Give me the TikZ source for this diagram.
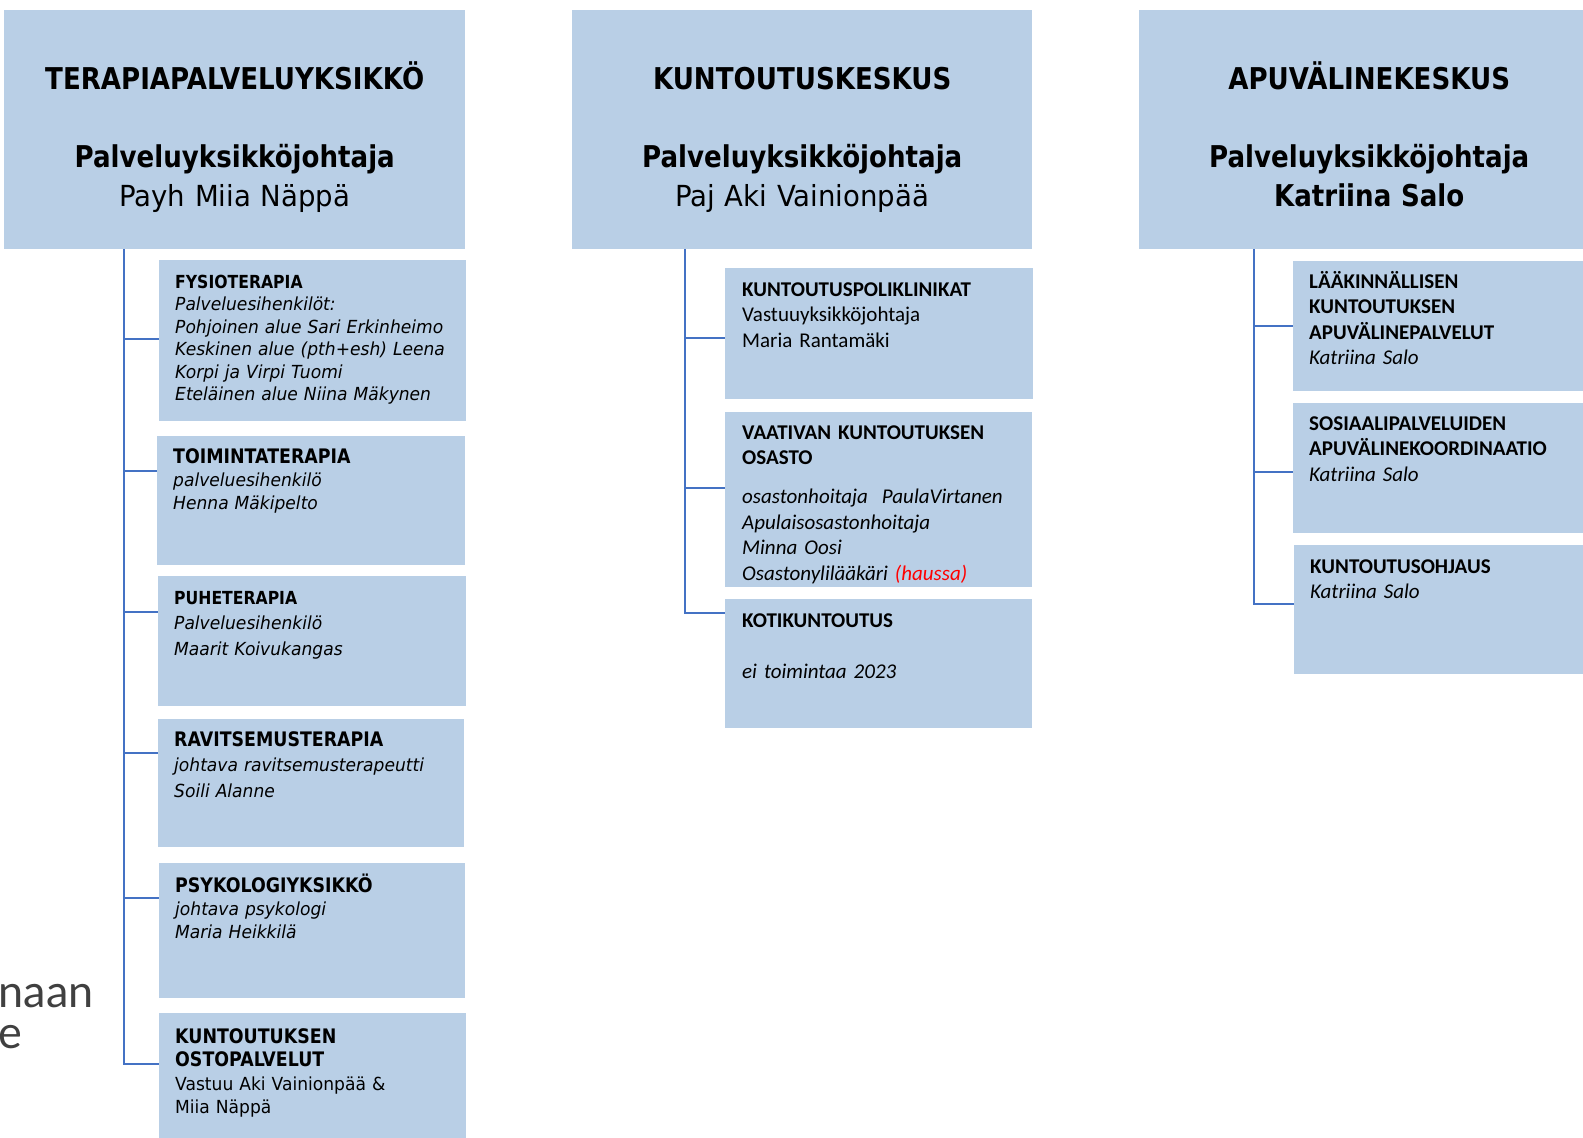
\documentclass[tikz,border=0pt]{standalone}
\usepackage{fontspec}
\setmainfont{DejaVu Sans}
\newfontfamily\tahb[FakeStretch=0.87]{DejaVu Sans}
\newfontfamily\tahr[FakeStretch=0.95]{DejaVu Sans}
\newfontfamily\cali{Carlito}
\newfontfamily\slide{Lato}
\usetikzlibrary{positioning, calc}

\definecolor{boxblue}{RGB}{185,207,230}
\definecolor{linkblue}{RGB}{68,114,196}
\definecolor{haured}{RGB}{255,0,0}
\definecolor{slidegray}{RGB}{64,64,64}

% headings of the units
\newcommand{\thead}[2][18]{{\tahb\bfseries\fontsize{#1}{23}\selectfont #2}}
\newcommand{\chead}[1]{{\bfseries #1}}
\newcommand{\toptitle}[1]{{\tahb\bfseries\fontsize{30}{39}\selectfont #1}}

\tikzset{
  head/.style={fill=boxblue, anchor=north west, inner sep=0pt, align=center,
    text height=79pt, text depth=160pt, font=\tahr\fontsize{29}{39}\selectfont},
  unit/.style={fill=boxblue, anchor=north west, inner xsep=16pt, inner ysep=0pt, align=left},
  tah/.style={font=\tahr\fontsize{18}{#1}\selectfont},
  tah/.default=23,
  cal/.style={font=\cali\fontsize{21}{25.5}\selectfont},
  link/.style={draw=linkblue, line width=2.8pt},
}

\begin{document}
\begin{tikzpicture}[x=1pt, y=-1pt]
  \useasboundingbox (0,0) rectangle (1583,1138);

  % slide text behind the chart
  \node[anchor=base east, inner sep=0pt, text=slidegray, font=\slide\fontsize{45}{50}\selectfont] (rest1) at (94,1007) {naan};
  \node[anchor=base east, inner sep=0pt, text=slidegray, font=\slide\fontsize{45}{50}\selectfont] (rest2) at (22,1048) {e};

  % the three service units
  \node[head, text width=461pt] (terapia) at (4,10) {\toptitle{TERAPIAPALVELUYKSIKKÖ}\\[39pt]\toptitle{Palveluyksikköjohtaja}\\Payh Miia Näppä};
  \node[head, text width=460pt] (kuntoutus) at (572,10) {\toptitle{KUNTOUTUSKESKUS}\\[39pt]\toptitle{Palveluyksikköjohtaja}\\Paj Aki Vainionpää};
  \node[head, text width=460pt] (apuv) at (1139,10) {\toptitle{APUVÄLINEKESKUS}\\[39pt]\toptitle{Palveluyksikköjohtaja}\\\toptitle{Katriina Salo}};

  % terapiapalveluyksikkö
  \node[unit, tah=22.5, text width=275pt, text height=28pt, text depth=133pt] (fysio) at (159,260)
    {\thead{FYSIOTERAPIA}\\{\itshape Palveluesihenkilöt:\\Pohjoinen alue Sari Erkinheimo\\Keskinen alue (pth+esh) Leena\\Korpi ja Virpi Tuomi\\Eteläinen alue Niina Mäkynen}};
  \node[unit, tah, text width=276pt, text height=27pt, text depth=102pt] (toimi) at (157,436)
    {\thead[20]{TOIMINTATERAPIA}\\{\itshape palveluesihenkilö\\Henna Mäkipelto}};
  \node[unit, tah=25.5, text width=276pt, text height=28pt, text depth=102pt] (puhe) at (158,576)
    {\thead{PUHETERAPIA}\\{\itshape Palveluesihenkilö\\Maarit Koivukangas}};
  \node[unit, tah=25.5, text width=274pt, text height=27pt, text depth=101pt] (ravit) at (158,719)
    {\thead[20]{RAVITSEMUSTERAPIA}\\{\itshape johtava ravitsemusterapeutti\\Soili Alanne}};
  \node[unit, tah, text width=274pt, text height=29pt, text depth=106pt] (psyko) at (159,863)
    {\thead[20]{PSYKOLOGIYKSIKKÖ}\\{\itshape johtava psykologi\\Maria Heikkilä}};
  \node[unit, tah=23.5, text width=275pt, text height=30pt, text depth=97pt] (ostop) at (159,1013)
    {\thead[20]{KUNTOUTUKSEN}\\\thead[20]{OSTOPALVELUT}\\Vastuu Aki Vainionpää \&\\Miia Näppä};

  % kuntoutuskeskus
  \node[unit, cal, inner xsep=17pt, text width=274pt, text height=28pt, text depth=103pt] (kpoli) at (725,268)
    {\chead{KUNTOUTUSPOLIKLINIKAT}\\Vastuuyksikköjohtaja\\Maria Rantamäki};
  \node[unit, cal, inner xsep=17pt, text width=273pt, text height=27pt, text depth=148pt] (vaativa) at (725,412)
    {\chead{VAATIVAN KUNTOUTUKSEN}\\\chead{OSASTO}\\[13.5pt]{\itshape osastonhoitaja\ \ PaulaVirtanen\\Apulaisosastonhoitaja\\Minna Oosi\\Osastonylilääkäri {\color{haured}(haussa)}}};
  \node[unit, cal, inner xsep=17pt, text width=273pt, text height=28pt, text depth=101pt] (koti) at (725,599)
    {\chead{KOTIKUNTOUTUS}\\[25.5pt]{\itshape ei toimintaa 2023}};

  % apuvälinekeskus
  \node[unit, cal, text width=278pt, text height=27pt, text depth=103pt] (laak) at (1293,261)
    {\chead{LÄÄKINNÄLLISEN}\\\chead{KUNTOUTUKSEN}\\\chead{APUVÄLINEPALVELUT}\\{\itshape Katriina Salo}};
  \node[unit, cal, text width=278pt, text height=27pt, text depth=103pt] (sosi) at (1293,403)
    {\chead{SOSIAALIPALVELUIDEN}\\\chead{APUVÄLINEKOORDINAATIO}\\{\itshape Katriina Salo}};
  \node[unit, cal, text width=278pt, text height=28pt, text depth=101pt] (kohj) at (1294,545)
    {\chead{KUNTOUTUSOHJAUS}\\{\itshape Katriina Salo}};

  % connectors
  \coordinate (tt) at ([xshift=120pt]terapia.south west);
  \coordinate (fysio-in) at ([yshift=-79pt]fysio.north west);
  \coordinate (toimi-in) at ([yshift=-35pt]toimi.north west);
  \coordinate (puhe-in) at ([yshift=-36pt]puhe.north west);
  \coordinate (ravit-in) at ([yshift=-34pt]ravit.north west);
  \coordinate (psyko-in) at ([yshift=-35pt]psyko.north west);
  \coordinate (ostop-in) at ([yshift=-51pt]ostop.north west);
  \draw[link] (tt) |- (ostop-in);
  \draw[link] (tt |- fysio-in) -- (fysio-in);
  \draw[link] (tt |- toimi-in) -- (toimi-in);
  \draw[link] (tt |- puhe-in) -- (puhe-in);
  \draw[link] (tt |- ravit-in) -- (ravit-in);
  \draw[link] (tt |- psyko-in) -- (psyko-in);

  \coordinate (kt) at ([xshift=113pt]kuntoutus.south west);
  \coordinate (kpoli-in) at ([yshift=-70pt]kpoli.north west);
  \coordinate (vaativa-in) at ([yshift=-76pt]vaativa.north west);
  \coordinate (koti-in) at ([yshift=-14pt]koti.north west);
  \draw[link] (kt) |- (koti-in);
  \draw[link] (kt |- kpoli-in) -- (kpoli-in);
  \draw[link] (kt |- vaativa-in) -- (vaativa-in);

  \coordinate (at) at ([xshift=115pt]apuv.south west);
  \coordinate (laak-in) at ([yshift=-65pt]laak.north west);
  \coordinate (sosi-in) at ([yshift=-69pt]sosi.north west);
  \coordinate (kohj-in) at ([yshift=-59pt]kohj.north west);
  \draw[link] (at) |- (kohj-in);
  \draw[link] (at |- laak-in) -- (laak-in);
  \draw[link] (at |- sosi-in) -- (sosi-in);
\end{tikzpicture}
\end{document}
